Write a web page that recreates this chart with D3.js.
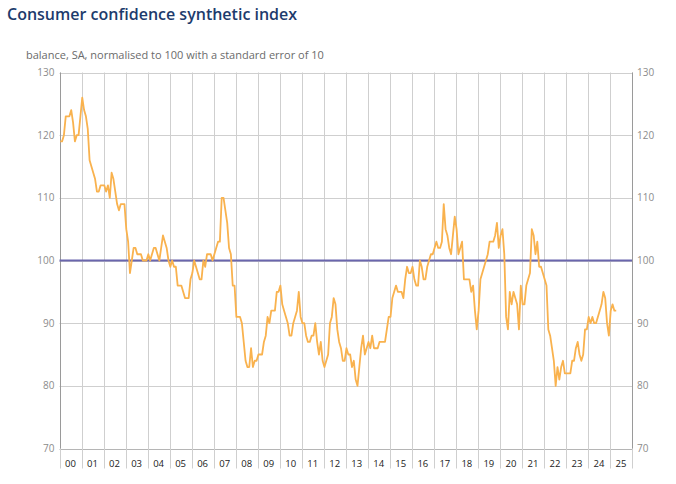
<!DOCTYPE html>
<html lang="en">
<head>
<meta charset="UTF-8">
<title>Consumer confidence synthetic index</title>
<script src="https://cdn.jsdelivr.net/npm/d3@7"></script>
<style>
  body { margin: 0; background: #fff; font-family: "Open Sans", sans-serif; }
  svg text { font-family: "Open Sans", sans-serif; }
</style>
</head>
<body>
<svg id="chart" width="676" height="484"></svg>
<script>
// monthly values, Jan 2000 onward
const startYear = 2000;
const values = [
  119,119,120,123,123,123,124,122,119,120,120,123,   // 2000
  126,124,123,121,116,115,114,113,111,111,112,112,   // 2001
  112,111,112,110,114,113,111,109,108,109,109,109,   // 2002
  105,103,98,100,102,102,101,101,101,100,100,100,    // 2003
  101,100,101,102,102,101,100,102,104,103,102,100,   // 2004
  99,100,99,99,96,96,96,95,94,94,94,97,              // 2005
  98,100,99,98,97,97,100,99,101,101,101,100,         // 2006
  101,102,103,103,110,110,108,106,102,101,96,96,     // 2007
  91,91,91,90,87,84,83,83,86,83,84,84,               // 2008
  85,85,85,87,88,91,90,92,92,92,95,95,               // 2009
  96,93,92,91,90,88,88,90,91,92,95,91,               // 2010
  90,90,88,87,87,88,88,90,87,85,87,84,               // 2011
  83,84,85,90,91,94,93,89,87,86,84,84,               // 2012
  86,85,85,83,84,81,80,83,86,88,85,86,               // 2013
  87,86,88,86,86,86,87,87,87,87,89,91,               // 2014
  91,94,95,96,95,95,95,94,97,99,98,98,               // 2015
  99,97,96,96,100,99,97,97,99,100,101,101,           // 2016
  102,103,102,102,103,109,105,104,102,101,104,107,   // 2017
  105,101,102,103,97,97,97,97,95,96,92,89,           // 2018
  92,97,98,99,100,101,103,103,103,104,106,102,       // 2019
  104,105,101,91,89,95,93,95,94,93,89,96,            // 2020
  93,93,96,97,98,105,104,101,103,99,99,98,           // 2021
  97,96,89,88,86,84,80,83,81,83,84,82,               // 2022
  82,82,82,84,84,86,87,85,84,85,89,89,               // 2023
  91,90,91,90,90,91,92,93,95,94,90,88,               // 2024
  92,93,92,92                                        // 2025
];
const yearLabels = ["00","01","02","03","04","05","06","07","08","09","10","11","12",
                    "13","14","15","16","17","18","19","20","21","22","23","24","25"];
const yTicks = [70, 80, 90, 100, 110, 120, 130];
const refValue = 100;

const svg = d3.select("#chart");
const plotL = 59.5, plotR = 632, plotT = 72.5, plotB = 448.5;

const x = d3.scaleLinear().domain([0, yearLabels.length * 12]).range([plotL, plotR]);
const y = d3.scaleLinear().domain([70, 130]).range([plotB, plotT]);

// title + subtitle
svg.append("text")
  .attr("x", 7).attr("y", 20)
  .attr("fill", "#1d3b6c")
  .attr("font-size", "16px").attr("font-weight", 600)
  .text("Consumer confidence synthetic index");

svg.append("text")
  .attr("x", 26).attr("y", 58.5)
  .attr("fill", "#6b6b6b")
  .attr("font-size", "11px")
  .text("balance, SA, normalised to 100 with a standard error of 10");

// horizontal grid
svg.append("g").selectAll("line")
  .data(yTicks)
  .join("line")
  .attr("x1", plotL).attr("x2", plotR)
  .attr("y1", d => Math.round(y(d)) + 0.5).attr("y2", d => Math.round(y(d)) + 0.5)
  .attr("stroke", d => d == 70 ? "#b5b5b5" : "#cfcfcf")
  .attr("stroke-width", 1);

// vertical year lines, running down between the year labels
const yearEdges = d3.range(yearLabels.length + 1);
svg.append("g").selectAll("line")
  .data(yearEdges)
  .join("line")
  .attr("x1", d => Math.round(x(d * 12)) + 0.5).attr("x2", d => Math.round(x(d * 12)) + 0.5)
  .attr("y1", plotT).attr("y2", plotB + 20)
  .attr("stroke", "#cfcfcf");

// side axis lines
[plotL, plotR].forEach(function(px){
  svg.append("line")
    .attr("x1", Math.round(px) + 0.5).attr("x2", Math.round(px) + 0.5)
    .attr("y1", plotT).attr("y2", plotB)
    .attr("stroke", "#9a9a9a");
});

// y labels both sides
const yLab = svg.append("g").attr("font-size", "10px").attr("fill", "#8c8c8c");
yLab.selectAll(".yl")
  .data(yTicks)
  .join("text")
  .attr("class", "yl")
  .attr("x", plotL - 5).attr("y", d => y(d) + 3.5)
  .attr("text-anchor", "end")
  .text(d => d);
yLab.selectAll(".yr")
  .data(yTicks)
  .join("text")
  .attr("class", "yr")
  .attr("x", plotR + 5).attr("y", d => y(d) + 3.5)
  .text(d => d);

// year labels
svg.append("g").selectAll("text")
  .data(yearLabels)
  .join("text")
  .attr("x", (d, i) => x(i * 12 + 6))
  .attr("y", plotB + 18)
  .attr("text-anchor", "middle")
  .attr("font-size", "9.5px")
  .attr("fill", "#222")
  .text(d => d);

// reference line at 100
svg.append("line")
  .attr("x1", plotL).attr("x2", plotR)
  .attr("y1", y(refValue)).attr("y2", y(refValue))
  .attr("stroke", "#6a66ad").attr("stroke-width", 2);

// the index
const line = d3.line()
  .x((d, i) => x(i + 0.4))
  .y(d => y(d));

svg.append("path")
  .datum(values)
  .attr("d", line)
  .attr("fill", "none")
  .attr("stroke", "#f9b24e")
  .attr("stroke-width", 1.8)
  .attr("stroke-linejoin", "round");
</script>
</body>
</html>
